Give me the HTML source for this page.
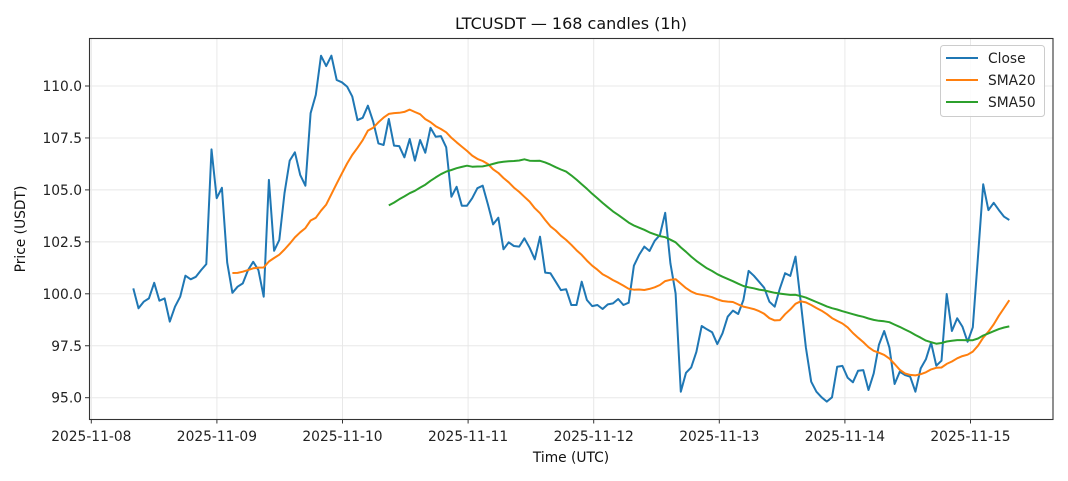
<!DOCTYPE html>
<html><head><meta charset="utf-8"><style>
body{margin:0;background:#fff;}
svg{display:block;font-family:"DejaVu Sans","Liberation Sans",sans-serif;}
</style></head><body>
<svg id="s" width="1068" height="481" viewBox="0 0 1068 481" xmlns="http://www.w3.org/2000/svg">
<rect width="1068" height="481" fill="#fff"/>
<g id="grid"></g>
<g id="series"></g>
<rect x="89.5" y="38.5" width="963.5" height="381" fill="none" stroke="#333" stroke-width="1.1"/>
<g id="ticks" font-size="13.8" fill="#222"></g>
<text x="571" y="29" font-size="16" text-anchor="middle" fill="#111">LTCUSDT — 168 candles (1h)</text>
<text x="571" y="462" font-size="13.8" text-anchor="middle" fill="#111">Time (UTC)</text>
<text transform="translate(25,229) rotate(-90)" font-size="13.8" text-anchor="middle" fill="#111">Price (USDT)</text>
<g>
<rect x="940.5" y="45.5" width="104" height="71" rx="3" fill="#fff" fill-opacity="0.85" stroke="#ccc"/>
<line x1="946" y1="58" x2="978" y2="58" stroke="#1f77b4" stroke-width="2"/>
<line x1="946" y1="80" x2="978" y2="80" stroke="#ff7f0e" stroke-width="2"/>
<line x1="946" y1="102" x2="978" y2="102" stroke="#2ca02c" stroke-width="2"/>
<text x="988" y="63" font-size="13.8" fill="#222">Close</text>
<text x="988" y="85" font-size="13.8" fill="#222">SMA20</text>
<text x="988" y="107" font-size="13.8" fill="#222">SMA50</text>
</g>
</svg>
<script>
var d=[100.26,99.30,99.62,99.78,100.53,99.67,99.78,98.66,99.38,99.86,100.87,100.70,100.82,101.14,101.43,106.95,104.6,105.1,101.5,100.05,100.34,100.5,101.14,101.54,101.14,99.86,105.48,102.07,102.59,104.84,106.41,106.81,105.72,105.2,108.69,109.57,111.46,110.96,111.46,110.29,110.18,109.97,109.49,108.36,108.47,109.05,108.28,107.24,107.16,108.41,107.13,107.11,106.57,107.45,106.41,107.4,106.79,107.99,107.56,107.59,107.05,104.67,105.15,104.24,104.24,104.6,105.08,105.2,104.3,103.34,103.66,102.14,102.48,102.3,102.27,102.67,102.22,101.66,102.75,101.02,100.99,100.58,100.18,100.22,99.46,99.46,100.58,99.70,99.41,99.46,99.27,99.49,99.54,99.75,99.46,99.57,101.35,101.87,102.27,102.06,102.55,102.83,103.9,101.47,100.02,95.29,96.2,96.46,97.21,98.45,98.29,98.15,97.58,98.1,98.9,99.19,99.03,99.70,101.1,100.87,100.58,100.29,99.62,99.38,100.26,100.99,100.86,101.79,99.62,97.41,95.77,95.29,95.02,94.81,95.02,96.49,96.53,95.96,95.74,96.3,96.33,95.37,96.17,97.54,98.21,97.41,95.66,96.25,96.09,96.01,95.29,96.41,96.85,97.65,96.54,96.78,99.99,98.21,98.82,98.42,97.69,98.39,101.8,105.27,104.03,104.38,104.03,103.71,103.55];
var n=d.length,x0=133.3,x1=1009.3;
function X(i){return x0+i*(x1-x0)/(n-1);}
function Y(p){return 397.7-(p-95)*20.78;}
var NS="http://www.w3.org/2000/svg";
function el(t,a,p){var e=document.createElementNS(NS,t);for(var k in a)e.setAttribute(k,a[k]);p.appendChild(e);return e;}
var g=document.getElementById('grid'),tk=document.getElementById('ticks'),sr=document.getElementById('series');
var days=["2025-11-08","2025-11-09","2025-11-10","2025-11-11","2025-11-12","2025-11-13","2025-11-14","2025-11-15"];
for(var i=0;i<8;i++){var x=91.3+i*125.6;
el('line',{x1:x,y1:38,x2:x,y2:419,stroke:'#e8e8e8','stroke-width':1},g);
el('line',{x1:x,y1:419,x2:x,y2:423.5,stroke:'#333','stroke-width':1},tk);
var t=el('text',{x:x,y:441,'text-anchor':'middle'},tk);t.textContent=days[i];}
for(var v=95;v<=110;v+=2.5){var y=Y(v);
el('line',{x1:89,y1:y,x2:1053,y2:y,stroke:'#e8e8e8','stroke-width':1},g);
el('line',{x1:85,y1:y,x2:89,y2:y,stroke:'#333','stroke-width':1},tk);
var t=el('text',{x:82,y:y+5,'text-anchor':'end'},tk);t.textContent=v.toFixed(1);}
function sma(w){var pts=[];for(var i=w-1;i<n;i++){var s=0;for(var j=i-w+1;j<=i;j++)s+=d[j];pts.push(X(i).toFixed(1)+','+Y(s/w).toFixed(1));}return pts.join(' ');}
var cp=[];for(var i=0;i<n;i++)cp.push(X(i).toFixed(1)+','+Y(d[i]).toFixed(1));
el('polyline',{points:cp.join(' '),fill:'none',stroke:'#1f77b4','stroke-width':2,'stroke-linejoin':'round'},sr);
el('polyline',{points:sma(20),fill:'none',stroke:'#ff7f0e','stroke-width':2,'stroke-linejoin':'round'},sr);
el('polyline',{points:sma(50),fill:'none',stroke:'#2ca02c','stroke-width':2,'stroke-linejoin':'round'},sr);
</script>
</body></html>
